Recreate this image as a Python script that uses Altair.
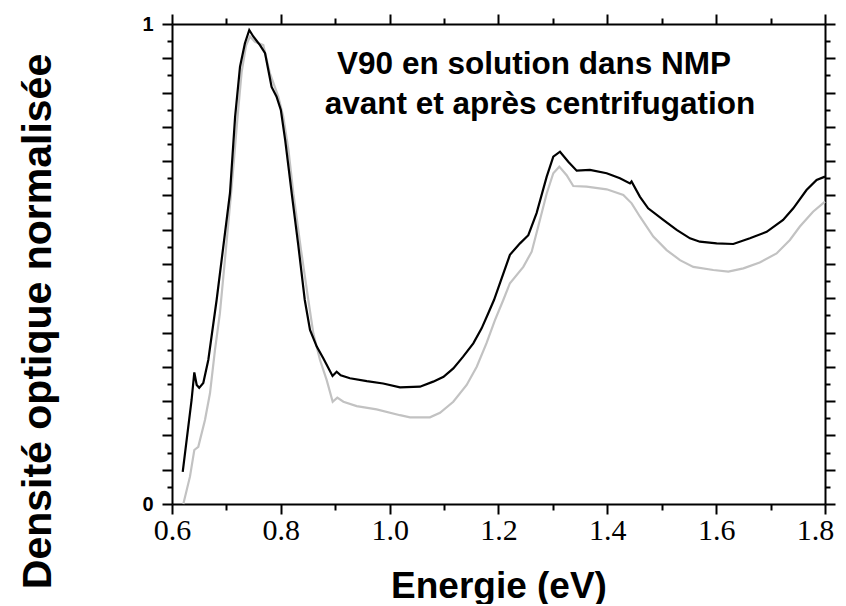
import altair as alt
import pandas as pd

# Black curve (before centrifugation)
energy_black = [0.6197, 0.636, 0.641, 0.6454, 0.650, 0.6575, 0.6667, 0.682, 0.7066, 0.716,
                0.725, 0.734, 0.742, 0.7494, 0.7617, 0.771, 0.777, 0.783, 0.792, 0.800,
                0.808, 0.814, 0.820, 0.832, 0.844, 0.8536, 0.866, 0.878, 0.895, 0.9026,
                0.910, 0.927, 0.958, 0.988, 1.019, 1.0557, 1.080, 1.099, 1.117, 1.135,
                1.1537, 1.169, 1.181, 1.1917, 1.2027, 1.221, 1.2395, 1.2548, 1.270, 1.2886,
                1.3007, 1.313, 1.3282, 1.3437, 1.368, 1.3988, 1.4232, 1.4416, 1.4445, 1.46,
                1.475, 1.5028, 1.5274, 1.5519, 1.570, 1.6009, 1.6315, 1.662, 1.6928, 1.723,
                1.7417, 1.766, 1.7846, 1.80]
od_black = [0.067, 0.2167, 0.274, 0.248, 0.242, 0.252, 0.300, 0.425, 0.648, 0.807,
            0.911, 0.960, 0.9875, 0.974, 0.956, 0.939, 0.904, 0.869, 0.849, 0.821,
            0.758, 0.703, 0.647, 0.540, 0.425, 0.3625, 0.328, 0.3035, 0.2667, 0.2757,
            0.268, 0.262, 0.256, 0.251, 0.243, 0.2444, 0.2549, 0.265, 0.2826, 0.307,
            0.3347, 0.366, 0.397, 0.425, 0.460, 0.519, 0.543, 0.560, 0.606, 0.682,
            0.7236, 0.734, 0.713, 0.6945, 0.696, 0.689, 0.6785, 0.668, 0.672, 0.640,
            0.616, 0.5917, 0.571, 0.5535, 0.5465, 0.543, 0.5417, 0.5535, 0.567, 0.5917,
            0.616, 0.654, 0.675, 0.682]

# Grey curve (after centrifugation)
energy_grey = [0.6208, 0.633, 0.641, 0.6483, 0.6606, 0.6698, 0.679, 0.688, 0.699, 0.7097,
               0.720, 0.728, 0.736, 0.7433, 0.7525, 0.7678, 0.780, 0.7953, 0.8045, 0.814,
               0.823, 0.837, 0.8505, 0.8597, 0.872, 0.8843, 0.8953, 0.9038, 0.915, 0.9394,
               0.976, 1.019, 1.0373, 1.074, 1.0925, 1.1169, 1.1415, 1.160, 1.178, 1.1935,
               1.2088, 1.221, 1.2456, 1.261, 1.273, 1.2886, 1.3007, 1.3117, 1.3252, 1.3374,
               1.3619, 1.3988, 1.4294, 1.4447, 1.46, 1.4845, 1.509, 1.5335, 1.558, 1.5947,
               1.6223, 1.650, 1.680, 1.711, 1.7355, 1.7538, 1.778, 1.80]
od_grey = [0.0, 0.057, 0.1125, 0.119, 0.175, 0.2306, 0.321, 0.397, 0.530, 0.661,
           0.800, 0.900, 0.955, 0.974, 0.963, 0.956, 0.897, 0.849, 0.807, 0.7375,
           0.647, 0.530, 0.425, 0.3556, 0.300, 0.258, 0.213, 0.2215, 0.213, 0.204,
           0.197, 0.185, 0.1806, 0.1806, 0.190, 0.213, 0.248, 0.286, 0.335, 0.383,
           0.425, 0.460, 0.494, 0.5257, 0.578, 0.647, 0.689, 0.7028, 0.685, 0.6625,
           0.661, 0.6556, 0.6438, 0.6264, 0.5985, 0.557, 0.529, 0.508, 0.494, 0.4875,
           0.484, 0.491, 0.503, 0.522, 0.550, 0.578, 0.609, 0.630]

x_major = [0.6, 0.8, 1.0, 1.2, 1.4, 1.6, 1.8]
x_minor = [0.7, 0.9, 1.1, 1.3, 1.5, 1.7]
y_major = [k / 14 for k in range(15)]
y_minor = [(2 * k + 1) / 28 for k in range(14)]

title_lines = ["V90 en solution dans NMP", "avant et après centrifugation"]
x_title = "Energie (eV)"
y_title = "Densité optique normalisée"

df_black = pd.DataFrame({"E": energy_black, "D": od_black})
df_grey = pd.DataFrame({"E": energy_grey, "D": od_grey})

xs = alt.Scale(domain=[0.6, 1.8], nice=False, zero=False)
ys = alt.Scale(domain=[0, 1], nice=False, zero=False)

common = dict(domainColor="black", domainWidth=2, tickColor="black", tickWidth=2, grid=False)

grey = alt.Chart(df_grey).mark_line(color="#c2c2c2", strokeWidth=2.2).encode(
    x=alt.X("E:Q", scale=xs, axis=alt.Axis(
        orient="bottom", values=x_major, format=".1f", tickSize=10,
        labelFont="Liberation Sans Narrow", labelFontSize=30, labelColor="black",
        labelPadding=1, labelFlush=False,
        labelOffset={"condition": {"test": "datum.value > 1.79", "value": -10}, "value": 0},
        title=x_title, titleFont="Liberation Sans", titleFontWeight="bold", titleFontSize=37,
        titleColor="black", titleX=326.5, titleY=93, titleAlign="center",
        titleBaseline="alphabetic", **common)),
    y=alt.Y("D:Q", scale=ys, axis=alt.Axis(
        orient="left", values=y_major, tickSize=10,
        labelExpr="datum.value == 0 ? '0' : (datum.value > 0.999 ? '1' : '')",
        labelFont="Liberation Sans", labelFontWeight="bold", labelFontSize=20,
        labelColor="black", labelPadding=9, labelFlush=False,
        title=y_title, titleFont="Liberation Sans", titleFontWeight="bold", titleFontSize=41,
        titleColor="black", titleAngle=270, titleX=-122, titleY=297, titleAlign="center",
        titleBaseline="alphabetic", **common)),
)

black = alt.Chart(df_black).mark_line(color="black", strokeWidth=2.2).encode(
    x=alt.X("E:Q", scale=xs, axis=alt.Axis(
        orient="bottom", values=x_minor, tickSize=6, labels=False, domain=False,
        title=None, **common)),
    y=alt.Y("D:Q", scale=ys, axis=alt.Axis(
        orient="left", values=y_minor, tickSize=5, labels=False, domain=False,
        title=None, **common)),
)

frame_major = alt.Chart(df_black).mark_line(opacity=0).encode(
    x=alt.X("E:Q", scale=xs, axis=alt.Axis(
        orient="top", values=x_major, tickSize=10, labels=False, title=None, **common)),
    y=alt.Y("D:Q", scale=ys, axis=alt.Axis(
        orient="right", values=y_major, tickSize=10, labels=False, title=None, **common)),
)

frame_minor = alt.Chart(df_black).mark_line(opacity=0).encode(
    x=alt.X("E:Q", scale=xs, axis=alt.Axis(
        orient="top", values=x_minor, tickSize=6, labels=False, domain=False,
        title=None, **common)),
    y=alt.Y("D:Q", scale=ys, axis=alt.Axis(
        orient="right", values=y_minor, tickSize=5, labels=False, domain=False,
        title=None, **common)),
)

t1 = alt.Chart(pd.DataFrame({"t": [title_lines[0]]})).mark_text(
    font="Liberation Sans", fontWeight="bold", fontSize=31.5, color="black",
    align="center", baseline="alphabetic").encode(
    x=alt.value(362), y=alt.value(50), text="t:N")
t2 = alt.Chart(pd.DataFrame({"t": [title_lines[1]]})).mark_text(
    font="Liberation Sans", fontWeight="bold", fontSize=31.5, color="black",
    align="center", baseline="alphabetic").encode(
    x=alt.value(368), y=alt.value(90), text="t:N")

chart = alt.layer(grey, black, frame_major, frame_minor, t1, t2).resolve_axis(
    x="independent", y="independent"
).properties(
    width=653, height=480,
    autosize=alt.AutoSizeParams(type="none"),
    padding={"left": 164, "top": 16, "right": 13, "bottom": 100},
).configure_view(stroke=None).configure_axis(grid=False)

chart.save("out.html", embed_options={"renderer": "svg", "actions": False})
